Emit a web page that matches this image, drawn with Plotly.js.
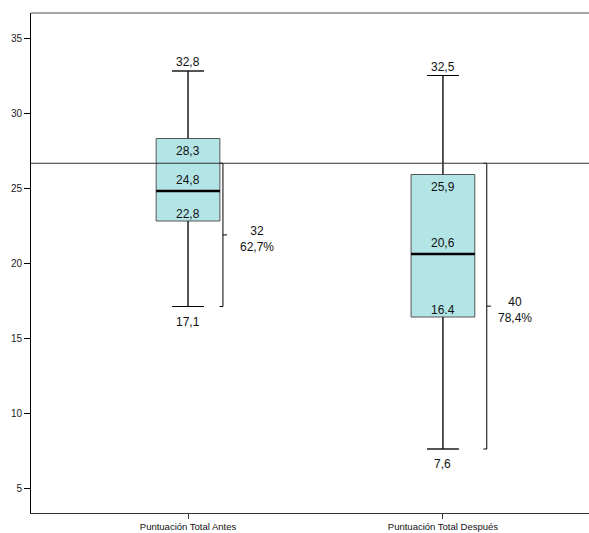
<!DOCTYPE html>
<html>
<head>
<meta charset="utf-8">
<script src="https://cdn.plot.ly/plotly-3.0.1.min.js"></script>
<style>
html,body{margin:0;padding:0;background:#fff;}
#chart{width:589px;height:533px;}
</style>
</head>
<body>
<div id="chart"></div>
<script>
// ---- data ----
const categories = ["Puntuación Total Antes", "Puntuación Total Después"];
const upperFence = [32.8, 32.5];
const q3 = [28.3, 25.9];
const median = [24.8, 20.6];
const q1 = [22.8, 16.4];
const lowerFence = [17.1, 7.6];
const upperLabels = ["32,8", "32,5"];
const q3Labels = ["28,3", "25,9"];
const medianLabels = ["24,8", "20,6"];
const q1Labels = ["22,8", "16.4"];
const lowerLabels = ["17,1", "7,6"];
const refValue = 26.65;
const bracketCounts = ["32", "40"];
const bracketPercents = ["62,7%", "78,4%"];
const yTicks = [5, 10, 15, 20, 25, 30, 35];

// ---- style ----
const boxWidth = 0.25;
const bracketOffset = [0.137, 0.172];
const bracketCap = 0.013;
const bracketTick = 0.016;
const labelOffset = [0.27, 0.282];
const font = "Liberation Sans, Arial, sans-serif";
const xPos = categories.map((c, i) => i);

const traces = [];
traces.push({
  type: "box",
  x: xPos,
  q1: q1, median: median, q3: q3,
  lowerfence: lowerFence, upperfence: upperFence,
  width: boxWidth,
  whiskerwidth: 0.5,
  fillcolor: "#b3e5e6",
  line: {color: "#555555", width: 1},
  boxpoints: false,
  hoverinfo: "skip",
  showlegend: false
});
xPos.forEach((x, i) => {
  traces.push({type: "scatter", mode: "lines", x: [x, x, null, x, x], y: [upperFence[i], q3[i], null, q1[i], lowerFence[i]],
    line: {color: "#000", width: 1}, hoverinfo: "skip", showlegend: false});
  traces.push({type: "scatter", mode: "lines", x: [x - boxWidth/4, x + boxWidth/4, null, x - boxWidth/4, x + boxWidth/4],
    y: [upperFence[i], upperFence[i], null, lowerFence[i], lowerFence[i]],
    line: {color: "#000", width: 1}, hoverinfo: "skip", showlegend: false});
  traces.push({type: "scatter", mode: "lines", x: [x - boxWidth/2, x + boxWidth/2], y: [median[i], median[i]],
    line: {color: "#000", width: 2.5}, hoverinfo: "skip", showlegend: false});
  const bx = x + bracketOffset[i];
  const mid = (refValue + lowerFence[i]) / 2;
  traces.push({type: "scatter", mode: "lines",
    x: [bx - bracketCap, bx, bx, bx - bracketCap, null, bx, bx + bracketTick],
    y: [refValue, refValue, lowerFence[i], lowerFence[i], null, mid, mid],
    line: {color: "#000", width: 1}, hoverinfo: "skip", showlegend: false});
});

const annotations = [];
const tf = {family: font, size: 12, color: "#111"};
xPos.forEach((x, i) => {
  annotations.push({x: x, y: upperFence[i], text: upperLabels[i], showarrow: false, yanchor: "bottom", yshift: 0, font: tf});
  annotations.push({x: x, y: q3[i], text: q3Labels[i], showarrow: false, yanchor: "top", yshift: -3, font: tf});
  annotations.push({x: x, y: median[i], text: medianLabels[i], showarrow: false, yanchor: "bottom", yshift: 2, font: tf});
  annotations.push({x: x, y: q1[i], text: q1Labels[i], showarrow: false, yanchor: "bottom", yshift: -2, font: tf});
  annotations.push({x: x, y: lowerFence[i], text: lowerLabels[i], showarrow: false, yanchor: "top", yshift: -6, font: tf});
  annotations.push({x: x + labelOffset[i], y: (refValue + lowerFence[i]) / 2, text: bracketCounts[i] + "<br>" + bracketPercents[i],
    showarrow: false, yanchor: "middle", xanchor: "center", yshift: -4, font: tf});
});

const layout = {
  width: 589, height: 533,
  margin: {l: 31, r: 0, t: 13, b: 20},
  paper_bgcolor: "#fff", plot_bgcolor: "#fff",
  showlegend: false,
  xaxis: {
    range: [-0.616, 1.573], tickvals: xPos, ticktext: categories,
    showgrid: false, zeroline: false, showline: true, linecolor: "#333", linewidth: 1,
    ticks: "outside", ticklen: 5, tickcolor: "#333",
    tickfont: {family: font, size: 9.5, color: "#111"}, fixedrange: true
  },
  yaxis: {
    range: [3.333, 36.667], tickvals: yTicks,
    showgrid: false, zeroline: false, showline: true, linecolor: "#000", linewidth: 1,
    ticks: "outside", ticklen: 6, tickcolor: "#000",
    tickfont: {family: font, size: 10, color: "#222"}, fixedrange: true
  },
  shapes: [
    {type: "line", xref: "paper", yref: "paper", x0: 0, x1: 1, y0: 1, y1: 1, line: {color: "#888", width: 1.5}},
    {type: "line", xref: "paper", yref: "y", x0: 0, x1: 1, y0: refValue, y1: refValue, line: {color: "#333", width: 1}, layer: "above"}
  ],
  annotations: annotations
};

Plotly.newPlot("chart", traces, layout, {displayModeBar: false, staticPlot: true});
</script>
</body>
</html>
